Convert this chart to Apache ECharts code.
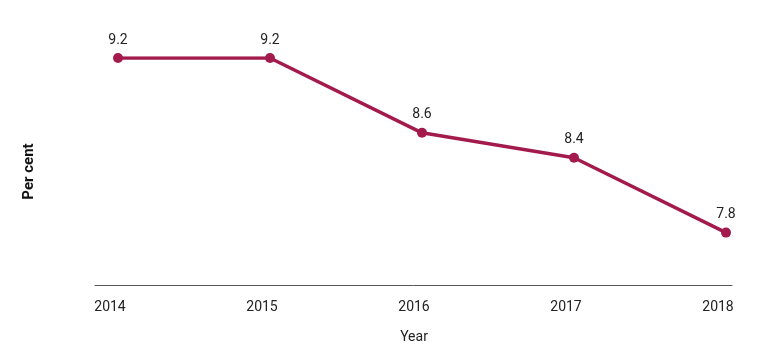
<!DOCTYPE html>
<html>
<head>
<meta charset="utf-8">
<script src="https://cdn.jsdelivr.net/npm/echarts@6/dist/echarts.min.js"></script>
<style>
html,body{margin:0;padding:0;background:#fff;}
#c{width:768px;height:362px;}
</style>
</head>
<body>
<div id="c"></div>
<script>
const years = ['2014', '2015', '2016', '2017', '2018'];
const values = [9.2, 9.2, 8.6, 8.4, 7.8];
const xAxisTitle = 'Year';
const yAxisTitle = 'Per cent';

const FONT = 'Roboto, "Liberation Sans", sans-serif';
const chart = echarts.init(document.getElementById('c'), null, {renderer: 'canvas'});
chart.setOption({
  backgroundColor: '#ffffff',
  animation: false,
  grid: [
    {left: 118, right: 42, top: 58, bottom: 77},
    {left: 95, right: 36, top: 58, bottom: 77}
  ],
  xAxis: [
    {
      type: 'category', data: years, boundaryGap: false, gridIndex: 0,
      axisLine: {show: false}, axisTick: {show: false},
      axisLabel: {color: '#222', fontFamily: FONT, fontSize: 14, margin: 15, padding: [0, 16, 0, 0]},
      name: xAxisTitle, nameLocation: 'middle', nameGap: 45,
      nameTextStyle: {color: '#222', fontFamily: FONT, fontSize: 14, padding: [0, 16, 0, 0]}
    },
    {
      type: 'value', gridIndex: 1, min: 0, max: 1,
      axisLine: {show: true, lineStyle: {color: '#555', width: 1}},
      axisTick: {show: false}, axisLabel: {show: false}, splitLine: {show: false}
    }
  ],
  yAxis: [
    {
      type: 'value', gridIndex: 0, min: 7.38, max: 9.2,
      axisLine: {show: false}, axisTick: {show: false}, axisLabel: {show: false}, splitLine: {show: false},
      name: yAxisTitle, nameLocation: 'middle', nameRotate: 90, nameGap: 81,
      nameTextStyle: {color: '#111', fontFamily: FONT, fontSize: 15, fontWeight: 'bold', padding: [0, 0, 0, 0]}
    },
    {
      type: 'value', gridIndex: 1, min: 0, max: 1, show: false
    }
  ],
  series: [{
    type: 'line', xAxisIndex: 0, yAxisIndex: 0, data: values,
    symbol: 'circle', symbolSize: 10,
    lineStyle: {color: '#a31b4c', width: 3.5},
    itemStyle: {color: '#a31b4c'},
    label: {show: true, position: 'top', distance: 6, color: '#222', fontFamily: FONT, fontSize: 14,
      formatter: p => p.value.toFixed(1)}
  }]
});
</script>
</body>
</html>
